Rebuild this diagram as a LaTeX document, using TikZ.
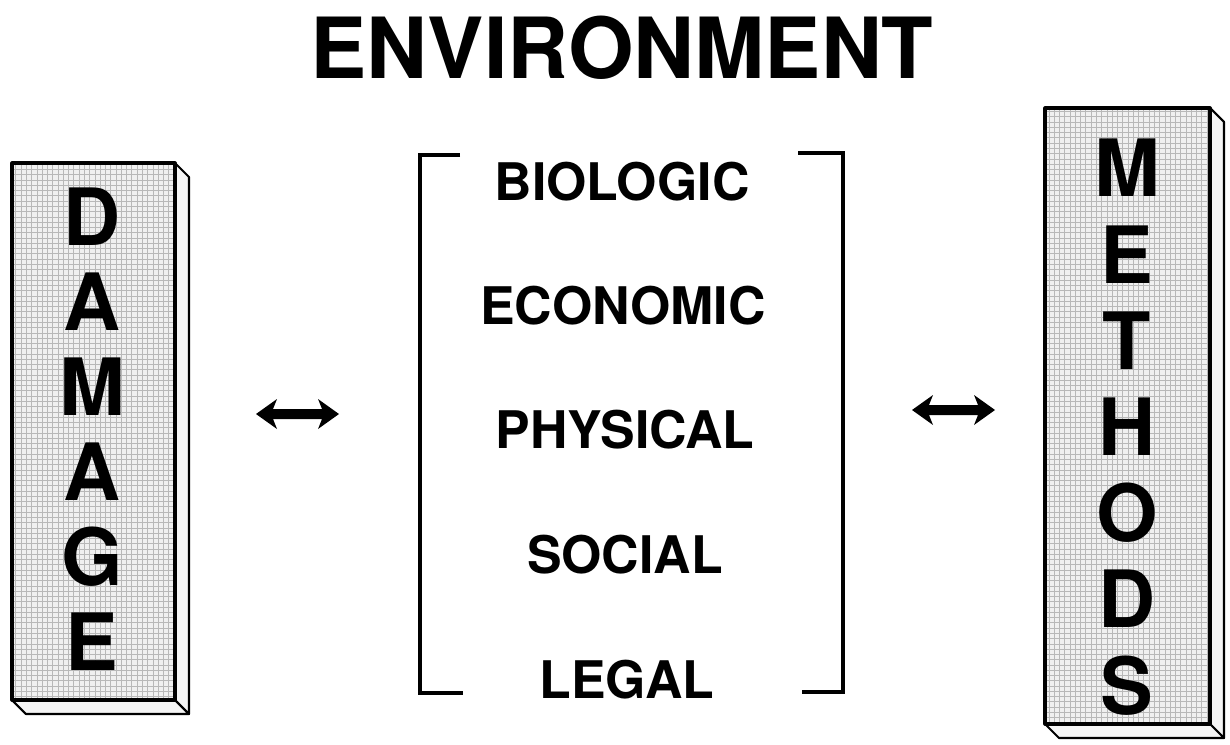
\documentclass[tikz,border=0pt]{standalone}
\usepackage{fontspec}
\setmainfont{TeX Gyre Heros}
\usetikzlibrary{patterns}

\tikzset{
  heading/.style={font=\bfseries\fontsize{48}{48}\selectfont, inner sep=0pt},
  factor/.style={font=\bfseries\fontsize{29.5}{29.5}\selectfont, inner sep=0pt},
  letter/.style={font=\bfseries\fontsize{45}{45}\selectfont, inner sep=0pt},
  slabface/.style={fill=black!6},
  slabgrain/.style={pattern=grid, pattern color=black!28},
  slabedge/.style={draw, line width=1.8pt, line join=round},
  slabside/.style={draw, fill=black!4, line width=1.2pt, line join=round},
  bracket/.style={line width=2pt},
  twoway/.style={fill=black, line join=round}
}

\begin{document}
\begin{tikzpicture}[x=0.02cm, y=-0.02cm]
  \useasboundingbox (0,0) rectangle (1230,744);

  \node[heading] (env) at (622,48) {ENVIRONMENT};

  % left slab
  \draw[slabside] (175,163) -- (189,177) -- (189,714) -- (175,700) -- cycle;
  \draw[slabside] (12,700) -- (26,714) -- (189,714) -- (175,700) -- cycle;
  \fill[slabface] (12,163) rectangle (175,700);
  \fill[slabgrain] (12,163) rectangle (175,700);
  \draw[slabedge] (12,163) rectangle (175,700);
  \foreach \ch [count=\i from 0] in {D,A,M,A,G,E}
    \node[letter] (dmg\i) at (92,{217+85*\i}) {\ch};

  % right slab
  \draw[slabside] (1210,108) -- (1224,122) -- (1224,738) -- (1210,724) -- cycle;
  \draw[slabside] (1045,724) -- (1059,738) -- (1224,738) -- (1210,724) -- cycle;
  \fill[slabface] (1045,108) rectangle (1210,724);
  \fill[slabgrain] (1045,108) rectangle (1210,724);
  \draw[slabedge] (1045,108) rectangle (1210,724);
  \foreach \ch [count=\i from 0] in {M,E,T,H,O,D,S}
    \node[letter] (mth\i) at (1127,{168+86.2*\i}) {\ch};

  % bracketed list
  \draw[bracket] (460,155) -- (420,155) -- (420,693) -- (463,693);
  \draw[bracket] (798,153) -- (843,153) -- (843,692) -- (802,692);
  \node[factor] (bio)  at (622,182) {BIOLOGIC};
  \node[factor] (eco)  at (623,306) {ECONOMIC};
  \node[factor] (phy)  at (625,430) {PHYSICAL};
  \node[factor] (soc)  at (625,555) {SOCIAL};
  \node[factor] (leg)  at (627,680) {LEGAL};

  % two-way arrows, drawn as solid outlines (tip to tip 83 units)
  \coordinate (la) at (256,414);
  \coordinate (lb) at (339,414);
  \coordinate (ra) at (912,410);
  \coordinate (rb) at (995,410);
  \fill[twoway] (la) -- ++(21,-15) -- ++(-4,10) -- ++(49,0) -- ++(-4,-10)
    -- (lb) -- ++(-21,15) -- ++(4,-10) -- ++(-49,0) -- ++(4,10) -- cycle;
  \fill[twoway] (ra) -- ++(21,-15) -- ++(-4,10) -- ++(49,0) -- ++(-4,-10)
    -- (rb) -- ++(-21,15) -- ++(4,-10) -- ++(-49,0) -- ++(4,10) -- cycle;
\end{tikzpicture}
\end{document}
